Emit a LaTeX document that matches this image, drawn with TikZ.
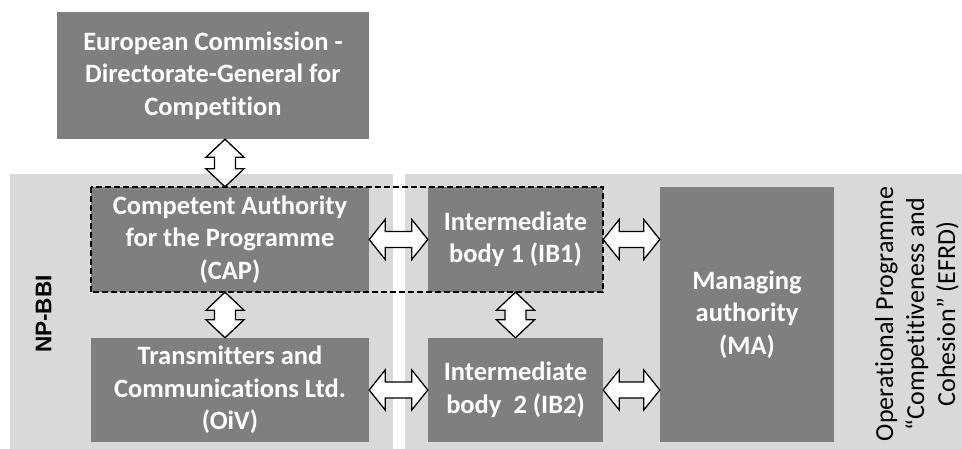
\documentclass[tikz,border=0pt]{standalone}
\usepackage{fontspec}
\setmainfont{Carlito}[Ligatures={NoCommon}]
\newfontfamily\arialfont{Liberation Sans}
\usetikzlibrary{calc}
\definecolor{boxgray}{HTML}{7F7F7F}
\definecolor{panelgray}{HTML}{D9D9D9}
\tikzset{
  box/.style={fill=boxgray, draw=none, text=white, font=\fontsize{26.5}{32.5}\selectfont\bfseries, align=center, inner sep=0pt, anchor=center},
  panel/.style={fill=panelgray, draw=none},
  arr/.style={draw=black, fill=white, line width=1.3pt, line join=miter},
  grp/.style={draw=black, dash pattern=on 6pt off 3pt, line width=2pt},
  sidelabel/.style={font=\fontsize{26}{31}\selectfont, align=center, rotate=90, inner sep=0pt}
}
\newcommand\harr[2]{%
  \draw[arr] let \p1=(#1), \p2=(#2) in
    (\x1,\y1) -- ({\x1+16pt},{\y1+20pt}) -- ({\x1+16pt},{\y1+8pt}) -- ({\x2-16pt},{\y1+8pt})
    -- ({\x2-16pt},{\y1+20pt}) -- (\x2,\y1) -- ({\x2-16pt},{\y1-20pt}) -- ({\x2-16pt},{\y1-8pt})
    -- ({\x1+16pt},{\y1-8pt}) -- ({\x1+16pt},{\y1-20pt}) -- cycle;}
\newcommand\varr[2]{%
  \draw[arr] let \p1=(#1), \p2=(#2) in
    (\x1,\y1) -- ({\x1+19pt},{\y1-18pt}) -- ({\x1+10.5pt},{\y1-18pt}) -- ({\x1+10.5pt},{\y2+18pt})
    -- ({\x1+19pt},{\y2+18pt}) -- (\x1,\y2) -- ({\x1-19pt},{\y2+18pt}) -- ({\x1-10.5pt},{\y2+18pt})
    -- ({\x1-10.5pt},{\y1-18pt}) -- ({\x1-19pt},{\y1-18pt}) -- cycle;}
\begin{document}
\begin{tikzpicture}[x=1pt,y=-1pt]
\useasboundingbox (0,0) rectangle (962,449);
\fill[white] (0,0) rectangle (962,449);
% panels
\fill[panel] (10,174) rectangle (393,449);
\fill[panel] (405,174) rectangle (962,449);
% boxes
\node[box, minimum width=312pt, minimum height=127pt] (ec) at (213,75.5)
  {European Commission -\\Directorate-General for\\Competition};
\node[box, minimum width=278pt, minimum height=105pt] (cap) at (230,239.5)
  {Competent Authority\\for the Programme\\(CAP)};
\node[box, minimum width=278pt, minimum height=104pt] (oiv) at (230,390)
  {Transmitters and\\Communications Ltd.\\(OiV)};
\node[box, minimum width=175pt, minimum height=105pt] (ib1) at (515.5,239.5)
  {Intermediate\\body 1 (IB1)};
\node[box, minimum width=175pt, minimum height=104pt] (ib2) at (515.5,390)
  {Intermediate\\body\ \ 2 (IB2)};
\node[box, minimum width=174pt, minimum height=255pt] (ma) at (747,314.5)
  {Managing\\authority\\(MA)};
% side labels
\node[rotate=90, inner sep=0pt, font=\arialfont\bfseries\fontsize{22.6}{27}\selectfont] (np) at (43.5,314) {NP-BBI};
\node[sidelabel] (op) at (917,314)
  {Operational Programme\\“Competitiveness and\\Cohesion” (EFRD)};
% dashed group
\draw[grp] (cap.north west) rectangle (ib1.south east);
% arrows
\coordinate (c1) at ([xshift=-5pt]cap.north);
\coordinate (c2) at ([xshift=-5pt]cap.south);
\coordinate (c3) at ([xshift=-5pt]oiv.north);
\varr{ec.south -| c1}{c1}
\varr{c2}{c3}
\varr{ib1.south}{ib2.north}
\harr{cap.east}{ib1.west}
\harr{oiv.east}{ib2.west}
\harr{ib1.east}{ib1.east -| ma.west}
\harr{ib2.east}{ib2.east -| ma.west}
\end{tikzpicture}
\end{document}
